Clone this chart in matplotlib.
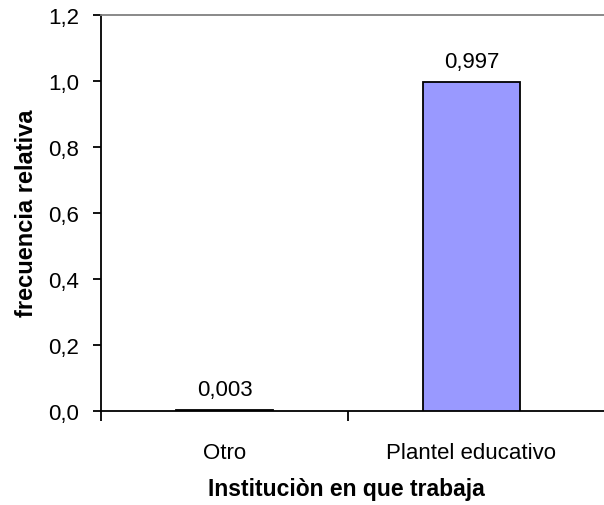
import matplotlib
matplotlib.use("Agg")
import matplotlib.pyplot as plt

categories = ["Otro", "Plantel educativo"]
values = [0.003, 0.997]
value_labels = ["0,003", "0,997"]
yticks = [0.0, 0.2, 0.4, 0.6, 0.8, 1.0, 1.2]
ytick_labels = ["0,0", "0,2", "0,4", "0,6", "0,8", "1,0", "1,2"]

plt.rcParams['font.family'] = ['Liberation Sans', 'DejaVu Sans']
FS = 16

fig = plt.figure(figsize=(6.04, 5.06), dpi=100)
W, H = 604, 506
ax = fig.add_axes([101 / W, 1 - 412 / H, (604 - 101) / W, (412 - 16) / H])

x = [0, 1]
ax.bar(x, values, width=0.395, color="#9999FF", edgecolor="black", linewidth=1.3, zorder=3)
for xi, v, lab in zip(x, values, value_labels):
    ax.text(xi, v + 0.046, lab, ha="center", va="baseline", fontsize=FS)

ax.set_xlim(-0.5, -0.5 + 503 / 247)
ax.set_ylim(0, 1.2)
ax.set_yticks(yticks)
ax.set_yticklabels(ytick_labels, fontsize=FS)
ax.set_xticks([-0.5, 0.5])
ax.set_xticklabels([])
ax.set_xticks(x, minor=True)
ax.set_xticklabels(categories, minor=True, fontsize=FS)
ax.tick_params(axis="x", which="minor", length=0, pad=22)
ax.tick_params(axis="x", which="major", length=7, width=1.3, direction="out")
ax.tick_params(axis="y", length=6, width=1.3, direction="out", pad=10)

ax.spines["right"].set_visible(False)
ax.spines["top"].set_color("#808080")
ax.spines["top"].set_linewidth(1.3)
ax.spines["left"].set_linewidth(1.3)
ax.spines["bottom"].set_linewidth(1.3)

ax.set_ylabel("frecuencia relativa", fontsize=17, fontweight="bold")
ax.set_xlabel("Instituciòn en que trabaja", fontsize=16.5, fontweight="bold")
ax.xaxis.set_label_coords((346 - 101) / 503, -(478 - 412) / 396)
ax.yaxis.set_label_coords((38 - 101) / 503, (412 - 213) / 396)

fig.savefig("out.png", dpi=100)
